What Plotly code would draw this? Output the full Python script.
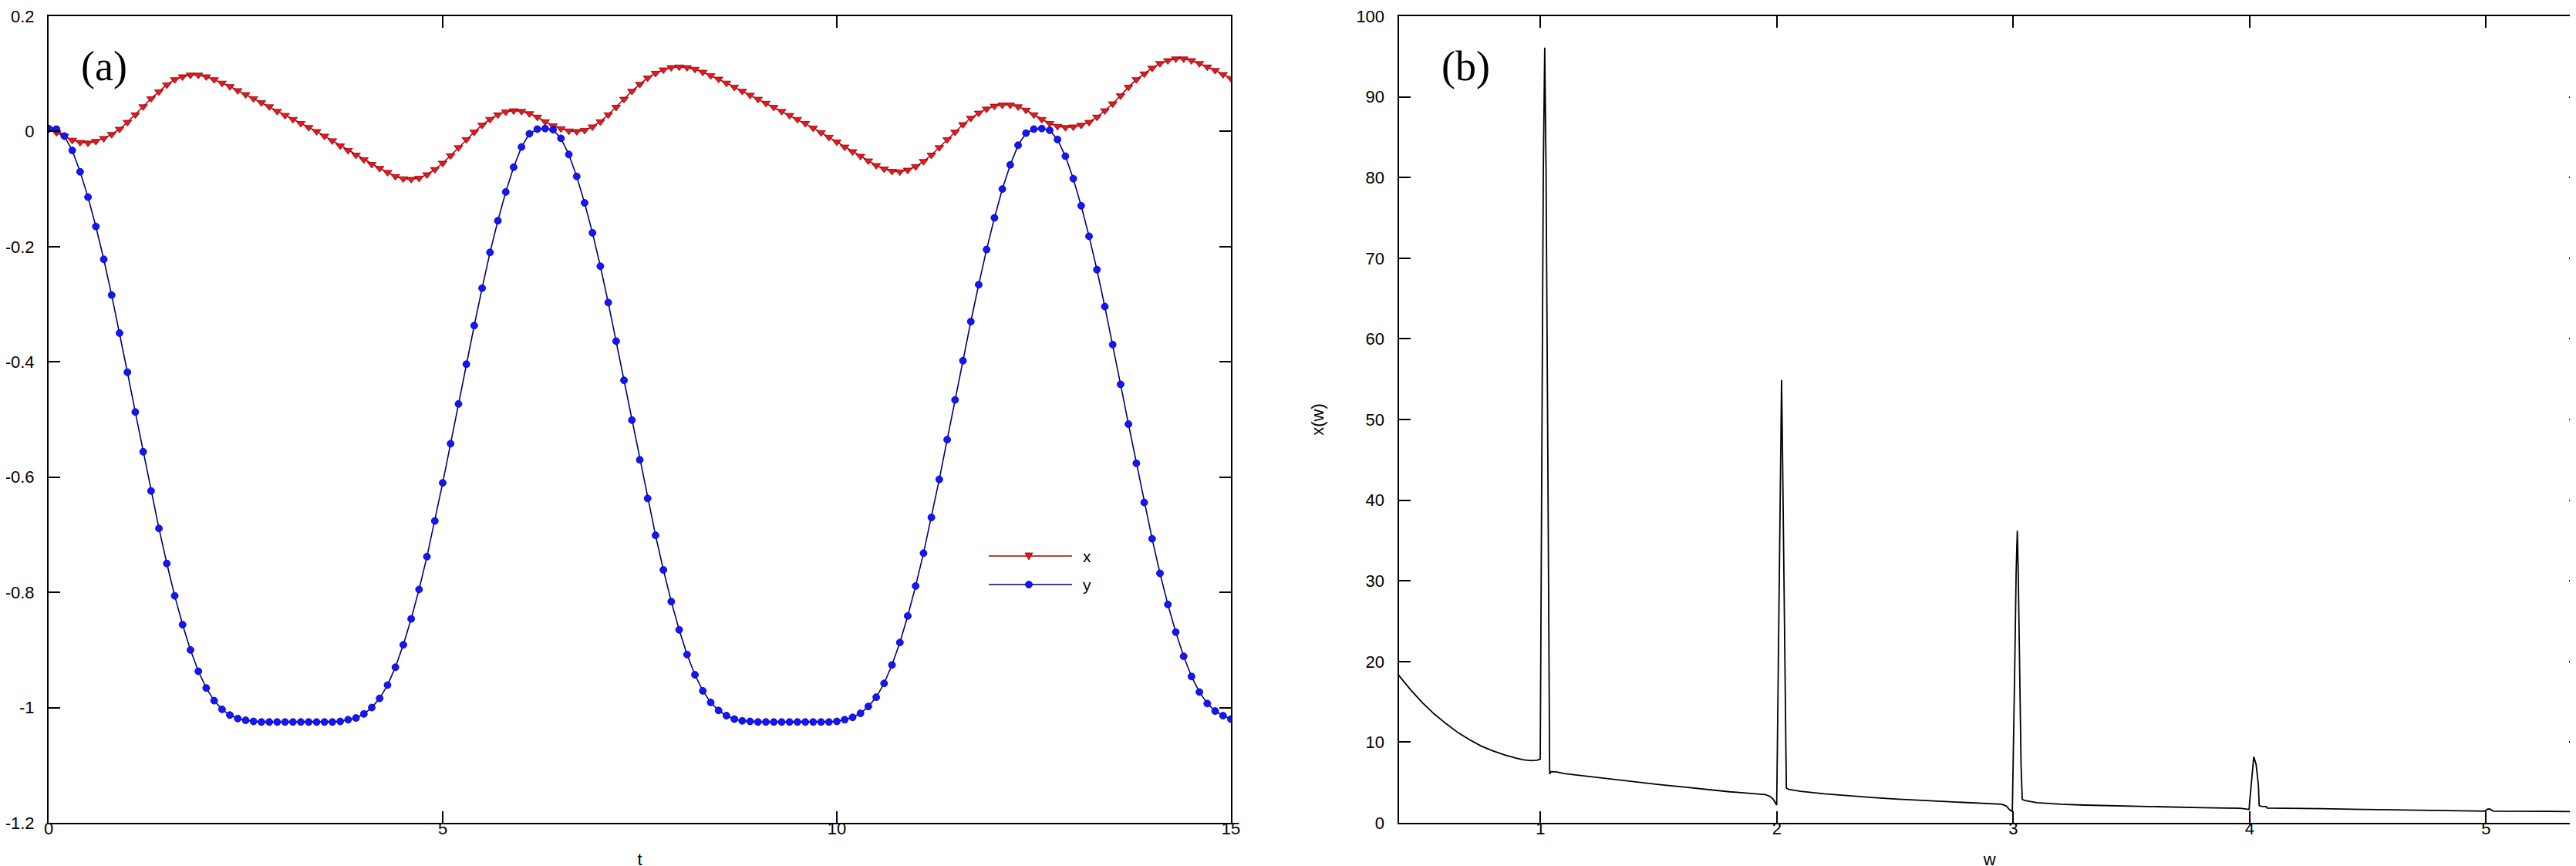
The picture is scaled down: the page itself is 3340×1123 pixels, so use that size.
import plotly.graph_objects as go

# ---------------- data: panel (a) ----------------
T = [round(0.1 * i, 1) for i in range(151)]

X_VALS = [
    0.004, -0.002, -0.008, -0.015, -0.019, -0.020, -0.017, -0.012, -0.005, 0.004,
    0.016, 0.029, 0.043, 0.057, 0.069, 0.081, 0.090, 0.095, 0.098, 0.098,
    0.095, 0.090, 0.084, 0.078, 0.071, 0.064, 0.057, 0.050, 0.043, 0.035,
    0.028, 0.021, 0.014, 0.007, 0.000, -0.008, -0.016, -0.025, -0.033, -0.041,
    -0.049, -0.057, -0.064, -0.071, -0.078, -0.082, -0.083, -0.081, -0.075, -0.066,
    -0.055, -0.042, -0.028, -0.014, -0.001, 0.011, 0.021, 0.029, 0.034, 0.036,
    0.035, 0.031, 0.025, 0.017, 0.010, 0.005, 0.001, 0.000, 0.002, 0.008,
    0.017, 0.029, 0.042, 0.056, 0.070, 0.082, 0.093, 0.101, 0.107, 0.111,
    0.112, 0.111, 0.108, 0.103, 0.097, 0.091, 0.084, 0.077, 0.070, 0.063,
    0.056, 0.049, 0.042, 0.035, 0.028, 0.021, 0.014, 0.006, -0.002, -0.010,
    -0.018, -0.027, -0.035, -0.043, -0.051, -0.059, -0.065, -0.069, -0.070, -0.067,
    -0.061, -0.052, -0.041, -0.028, -0.014, -0.001, 0.012, 0.023, 0.032, 0.039,
    0.044, 0.046, 0.046, 0.043, 0.037, 0.029, 0.021, 0.014, 0.009, 0.007,
    0.008, 0.011, 0.016, 0.025, 0.036, 0.048, 0.062, 0.077, 0.090, 0.100,
    0.110, 0.118, 0.123, 0.126, 0.126, 0.123, 0.118, 0.112, 0.106, 0.099,
    0.092,
]

Y_VALS = [
    0.005, 0.004, -0.008, -0.033, -0.070, -0.114, -0.165, -0.222, -0.284, -0.350,
    -0.418, -0.487, -0.556, -0.624, -0.689, -0.750, -0.806, -0.856, -0.900, -0.937,
    -0.966, -0.988, -1.003, -1.013, -1.019, -1.022, -1.024, -1.025, -1.025, -1.025,
    -1.025, -1.025, -1.025, -1.025, -1.025, -1.025, -1.025, -1.024, -1.021, -1.018,
    -1.011, -1.000, -0.984, -0.961, -0.930, -0.891, -0.846, -0.795, -0.738, -0.676,
    -0.610, -0.542, -0.473, -0.404, -0.337, -0.272, -0.210, -0.155, -0.105, -0.062,
    -0.027, -0.004, 0.004, 0.005, 0.003, -0.012, -0.040, -0.078, -0.124, -0.176,
    -0.234, -0.297, -0.364, -0.432, -0.501, -0.570, -0.637, -0.701, -0.761, -0.816,
    -0.865, -0.908, -0.943, -0.971, -0.991, -1.005, -1.014, -1.020, -1.023, -1.024,
    -1.025, -1.025, -1.025, -1.025, -1.025, -1.025, -1.025, -1.025, -1.025, -1.025,
    -1.024, -1.021, -1.017, -1.010, -0.998, -0.982, -0.958, -0.926, -0.887, -0.841,
    -0.789, -0.732, -0.670, -0.604, -0.535, -0.466, -0.398, -0.330, -0.266, -0.205,
    -0.150, -0.100, -0.058, -0.024, -0.003, 0.004, 0.005, 0.002, -0.014, -0.043,
    -0.082, -0.129, -0.182, -0.240, -0.304, -0.370, -0.439, -0.508, -0.576, -0.644,
    -0.707, -0.767, -0.821, -0.869, -0.911, -0.946, -0.973, -0.993, -1.006, -1.014,
    -1.020,
]

A_XTICKS = [0, 5, 10, 15]
A_YTICKS = [0.2, 0, -0.2, -0.4, -0.6, -0.8, -1.0, -1.2]
A_YTICKTEXT = ["0.2", "0", "-0.2", "-0.4", "-0.6", "-0.8", "-1", "-1.2"]

# ---------------- data: panel (b) ----------------
W = [
    0.40, 0.45, 0.50, 0.55, 0.60, 0.65, 0.70, 0.75, 0.80, 0.85,
    0.90, 0.93, 0.96, 0.985, 0.9989, 1.0015, 1.0054, 1.0119, 1.0178, 1.0234,
    1.0299, 1.0358, 1.0387, 1.045, 1.07, 1.10, 1.20, 1.30, 1.40, 1.50,
    1.60, 1.70, 1.75, 1.80, 1.85, 1.90, 1.95, 1.97, 1.985, 1.9992,
    2.0025, 2.0090, 2.0155, 2.0198, 2.0237, 2.0302, 2.0361, 2.0400, 2.05, 2.10,
    2.20, 2.30, 2.40, 2.50, 2.60, 2.70, 2.80, 2.90, 2.95, 2.97,
    2.985, 2.996, 2.999, 3.006, 3.012, 3.017, 3.021, 3.027, 3.033, 3.038,
    3.05, 3.10, 3.20, 3.30, 3.40, 3.50, 3.60, 3.70, 3.80, 3.90,
    3.96, 3.985, 3.9977, 4.0, 4.0064, 4.0140, 4.0173, 4.0271, 4.0325, 4.0369,
    4.0402, 4.0499, 4.0717, 4.0739, 4.30, 4.50, 4.80, 4.995, 5.005, 5.015,
    5.03, 5.20, 5.40,
]
XW = [
    18.3, 16.5, 14.9, 13.5, 12.3, 11.2, 10.3, 9.5, 8.9, 8.4,
    8.0, 7.8, 7.7, 7.75, 7.9, 22.5, 51.9, 81.0, 96.1, 81.0,
    50.9, 21.1, 6.05, 6.35, 6.3, 6.1, 5.75, 5.4, 5.05, 4.75,
    4.45, 4.15, 3.95, 3.85, 3.75, 3.65, 3.5, 3.3, 2.9, 2.2,
    11.4, 28.8, 46.2, 54.9, 46.2, 29.6, 12.8, 4.3, 4.15, 3.9,
    3.6, 3.35, 3.15, 2.95, 2.8, 2.65, 2.5, 2.4, 2.3, 2.1,
    1.6, 1.4, 6.0, 19.0, 31.0, 36.2, 31.0, 19.0, 7.0, 2.9,
    2.75, 2.5, 2.3, 2.2, 2.15, 2.1, 2.05, 2.0, 1.88, 1.82,
    1.8, 1.7, 1.66, 2.61, 4.85, 7.07, 8.19, 7.24, 5.8, 4.68,
    2.13, 2.04, 2.0, 1.82, 1.75, 1.68, 1.58, 1.45, 1.68, 1.72,
    1.45, 1.42, 1.40,
]

B_XTICKS = [1, 2, 3, 4, 5]
B_YTICKS = [0, 10, 20, 30, 40, 50, 60, 70, 80, 90, 100]

# ---------------- figure ----------------
TICK_FONT = dict(family="Liberation Sans, Arial, sans-serif", size=22, color="black")
RED_LINE, RED_MARK = "#a00000", "#e8161e"
BLUE_LINE, BLUE_MARK = "#000070", "#1414ff"

fig = go.Figure()
fig.add_trace(go.Scatter(
    x=T, y=X_VALS, mode="lines+markers", name="x",
    line=dict(color=RED_LINE, width=1.5),
    marker=dict(symbol="triangle-down", size=10, color=RED_MARK,
                line=dict(color="#8c0000", width=0.8)),
    xaxis="x", yaxis="y"))
fig.add_trace(go.Scatter(
    x=T, y=Y_VALS, mode="lines+markers", name="y",
    line=dict(color=BLUE_LINE, width=1.6),
    marker=dict(symbol="circle", size=9, color=BLUE_MARK,
                line=dict(color="#0000a0", width=0.8)),
    xaxis="x", yaxis="y"))
fig.add_trace(go.Scatter(
    x=W, y=XW, mode="lines", name="x(w)",
    line=dict(color="black", width=1.8),
    xaxis="x2", yaxis="y2"))

axis_common = dict(
    showline=True, linecolor="black", linewidth=2, mirror="ticks",
    ticks="inside", ticklen=15, tickwidth=1.5, tickcolor="black",
    showgrid=False, zeroline=False, tickfont=TICK_FONT, automargin=False,
)

W_TOTAL = 3340 - 55 - 2
left_end = (1588 - 55) / W_TOTAL
right_start = (1805.5 - 55) / W_TOTAL

fig.update_layout(
    width=3340, height=1123,
    margin=dict(l=55, r=2, t=13, b=64, pad=0),
    paper_bgcolor="white", plot_bgcolor="white",
    showlegend=False,
    template="none",
    xaxis=dict(domain=[0, left_end], range=[0, 15], tickvals=A_XTICKS,
               anchor="y", ticklabelstandoff=-13,
               title=dict(text="t", font=TICK_FONT, standoff=20), **axis_common),
    yaxis=dict(domain=[0, 1], range=[-1.2, 0.2], tickvals=A_YTICKS,
               ticktext=A_YTICKTEXT, anchor="x", ticklabelstandoff=12,
               **axis_common),
    xaxis2=dict(domain=[right_start, 1], range=[0.4, 5.4], tickvals=B_XTICKS,
                anchor="y2", ticklabelstandoff=-13,
                title=dict(text="w", font=TICK_FONT, standoff=20), **axis_common),
    yaxis2=dict(domain=[0, 1], range=[0, 100], tickvals=B_YTICKS,
                anchor="x2", ticklabelstandoff=12,
                title=dict(text="x(w)", font=TICK_FONT, standoff=36), **axis_common),
)


def px_to_paper(px, py):
    return (px - 55) / W_TOTAL, (1059 - py) / 1046


# panel labels
PANEL_FONT = dict(family="Liberation Serif, Times New Roman, serif", size=54, color="black")
ax, ay = px_to_paper(127, 78)
bx, by = px_to_paper(1892, 78)
fig.add_annotation(x=ax, y=ay, xref="paper", yref="paper", text="(a)",
                   showarrow=False, font=PANEL_FONT, xanchor="center", yanchor="middle")
fig.add_annotation(x=bx, y=by, xref="paper", yref="paper", text="(b)",
                   showarrow=False, font=PANEL_FONT, xanchor="center", yanchor="middle")

# legend (drawn in MATLAB style, no box)
LEG_FONT = dict(family="Liberation Sans, Arial, sans-serif", size=21, color="black")
lx0, _ = px_to_paper(1274, 0)
lx1, _ = px_to_paper(1382, 0)
mx, _ = px_to_paper(1326, 0)
tx, _ = px_to_paper(1394, 0)
_, row_x = px_to_paper(0, 713)
_, row_y = px_to_paper(0, 750)
for row, lc in ((row_x, RED_LINE), (row_y, BLUE_LINE)):
    fig.add_shape(type="line", xref="paper", yref="paper", x0=lx0, x1=lx1, y0=row, y1=row,
                  line=dict(color=lc, width=1.5))
fig.add_shape(type="path", xref="paper", yref="paper", xsizemode="pixel", ysizemode="pixel",
              xanchor=mx, yanchor=row_x, path="M -5 4 L 5 4 L 0 -5 Z",
              fillcolor=RED_MARK, line=dict(color="#8c0000", width=0.8))
fig.add_shape(type="circle", xref="paper", yref="paper", xsizemode="pixel", ysizemode="pixel",
              xanchor=mx, yanchor=row_y, x0=-4.5, x1=4.5, y0=-4.5, y1=4.5,
              fillcolor=BLUE_MARK, line=dict(color="#0000a0", width=0.8))
fig.add_annotation(x=tx, y=row_x, xref="paper", yref="paper", text="x", showarrow=False,
                   font=LEG_FONT, xanchor="left", yanchor="middle")
fig.add_annotation(x=tx, y=row_y, xref="paper", yref="paper", text="y", showarrow=False,
                   font=LEG_FONT, xanchor="left", yanchor="middle")

fig.write_html("out.html")
